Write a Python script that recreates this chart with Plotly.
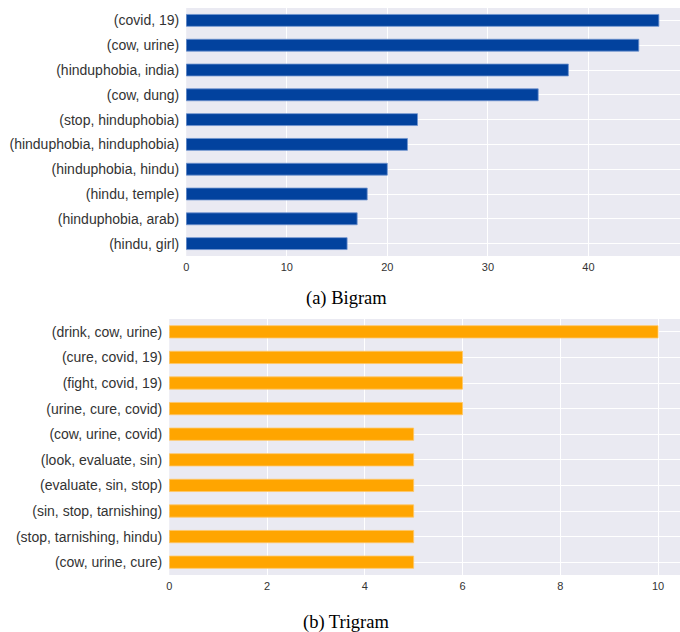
import plotly.graph_objects as go

bigram_labels = ["(covid, 19)", "(cow, urine)", "(hinduphobia, india)", "(cow, dung)",
                 "(stop, hinduphobia)", "(hinduphobia, hinduphobia)", "(hinduphobia, hindu)",
                 "(hindu, temple)", "(hinduphobia, arab)", "(hindu, girl)"]
bigram_counts = [47, 45, 38, 35, 23, 22, 20, 18, 17, 16]

trigram_labels = ["(drink, cow, urine)", "(cure, covid, 19)", "(fight, covid, 19)",
                  "(urine, cure, covid)", "(cow, urine, covid)", "(look, evaluate, sin)",
                  "(evaluate, sin, stop)", "(sin, stop, tarnishing)", "(stop, tarnishing, hindu)",
                  "(cow, urine, cure)"]
trigram_counts = [10, 6, 6, 6, 5, 5, 5, 5, 5, 5]

bigram_ticks = [0, 10, 20, 30, 40]
trigram_ticks = [0, 2, 4, 6, 8, 10]

W, H = 680, 632
BG = "#EAEAF2"
TXT = "#333333"

fig = go.Figure()
fig.add_trace(go.Bar(x=bigram_counts, y=bigram_labels, orientation="h", width=0.48,
                     marker=dict(color="#02429E", line=dict(color="#6F93CF", width=0.8)),
                     xaxis="x", yaxis="y", showlegend=False))
fig.add_trace(go.Bar(x=trigram_counts, y=trigram_labels, orientation="h", width=0.48,
                     marker=dict(color="#FFA500", line=dict(color="#FFC766", width=0.8)),
                     xaxis="x2", yaxis="y2", showlegend=False))

def py(px):
    return 1 - px / H

xfont = dict(family="Liberation Sans, Arial", size=11, color=TXT)
yfont = dict(family="Liberation Sans, Arial", size=14, color=TXT)
common = dict(showgrid=True, gridcolor="white", gridwidth=1, zeroline=False,
              showline=False, ticks="")

fig.update_layout(
    width=W, height=H, margin=dict(l=0, r=0, t=0, b=0),
    paper_bgcolor="white", plot_bgcolor=BG,
    xaxis=dict(domain=[184 / W, 1], range=[0, 49.1], tickvals=bigram_ticks, anchor="y",
               tickfont=xfont, ticklabelstandoff=3, **common),
    yaxis=dict(domain=[py(256), py(8)], range=[9.5, -0.5], type="category", anchor="x",
               tickfont=yfont, ticklabelstandoff=6, **common),
    xaxis2=dict(domain=[167 / W, 1], range=[0, 10.45], tickvals=trigram_ticks, anchor="y2",
                tickfont=xfont, ticklabelstandoff=3, **common),
    yaxis2=dict(domain=[py(575), py(319)], range=[9.5, -0.5], type="category", anchor="x2",
                tickfont=yfont, ticklabelstandoff=6, **common),
    annotations=[
        dict(text="(a) Bigram", x=345 / W, y=py(298), xref="paper", yref="paper",
             showarrow=False, xanchor="center", yanchor="middle",
             font=dict(family="Liberation Serif, Times New Roman", size=18.5, color="black")),
        dict(text="(b) Trigram", x=345 / W, y=py(622), xref="paper", yref="paper",
             showarrow=False, xanchor="center", yanchor="middle",
             font=dict(family="Liberation Serif, Times New Roman", size=18.5, color="black")),
    ],
)

fig.write_html("out.html", config={"displayModeBar": False},
               post_script="document.body.style.margin='0';")
